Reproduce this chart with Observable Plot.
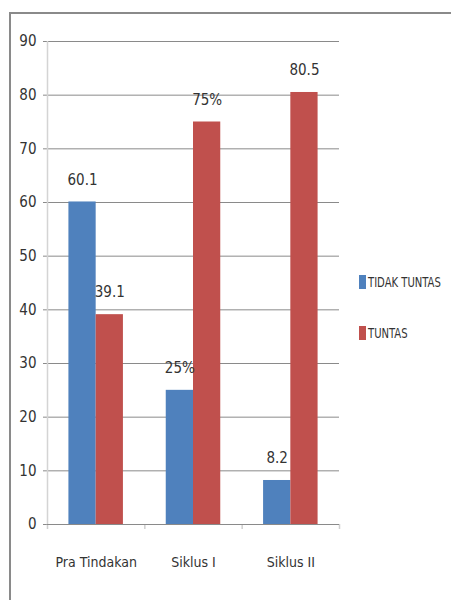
<!DOCTYPE html>
<html>
<head>
<meta charset="utf-8">
<script src="https://cdn.jsdelivr.net/npm/d3@7"></script>
<script src="https://cdn.jsdelivr.net/npm/@observablehq/plot@0.6"></script>
<style>
  html, body { margin: 0; padding: 0; background: #fff; }
  #wrap { position: relative; width: 451px; height: 600px; overflow: hidden; background: #fff;
          font-family: 'Liberation Sans Narrow', 'DejaVu Sans Condensed', 'Arial Narrow', sans-serif; }
  #border { position: absolute; left: 9px; top: 12px; width: 480px; height: 640px; border: 2px solid #8a8a8a; box-sizing: border-box; }
  #chart { position: absolute; left: 0; top: 0; }
  #legend { position: absolute; left: 359px; top: 272px; font-size: 13px; color: #333; white-space: nowrap; }
  .item { display: flex; align-items: center; height: 20px; margin-bottom: 31px; }
  .sw { width: 7px; height: 14px; margin-right: 2px; flex: none; }
  .lt { display: inline-block; transform: scale(0.86, 1.1); transform-origin: left center; }
</style>
</head>
<body>
<div id="wrap">
  <div id="border"></div>
  <div id="chart"></div>
  <div id="legend"></div>
</div>
<script>
const categories = ["Pra Tindakan", "Siklus I", "Siklus II"];
const seriesNames = ["TIDAK TUNTAS", "TUNTAS"];
const tidakTuntas = [60.1, 25, 8.2];
const tuntas = [39.1, 75, 80.5];
const tidakLabels = ["60.1", "25%", "8.2"];
const tuntasLabels = ["39.1", "75%", "80.5"];
const yTicks = [0, 10, 20, 30, 40, 50, 60, 70, 80, 90];
const colors = ["#4F81BD", "#C0504D"];

const rows = [];
categories.forEach((c, i) => {
  rows.push({i, cat: c, s: 0, series: seriesNames[0], value: tidakTuntas[i], label: tidakLabels[i]});
  rows.push({i, cat: c, s: 1, series: seriesNames[1], value: tuntas[i], label: tuntasLabels[i]});
});
const barW = 0.28;
const x1 = d => d.i + 0.5 - barW + d.s * barW;
const x2 = d => x1(d) + barW;
const font = "'Liberation Sans Narrow', 'DejaVu Sans Condensed', 'Arial Narrow', sans-serif";

const plot = Plot.plot({
  width: 451,
  height: 600,
  marginLeft: 47,
  marginRight: 112,
  marginTop: 41,
  marginBottom: 76,
  style: {fontFamily: font, fontSize: "14px", color: "#333", background: "transparent", overflow: "visible"},
  x: {type: "linear", domain: [0, categories.length], axis: null},
  y: {domain: [0, 90], axis: null},
  color: {domain: seriesNames, range: colors},
  marks: [
    Plot.gridY(yTicks, {stroke: "#8a8a8a", strokeOpacity: 1, x1: 0, x2: categories.length}),
    Plot.axisY({ticks: yTicks, tickSize: 4, tickPadding: 7, stroke: "#8a8a8a", fontSize: 15, fill: "#333", label: null}),
    Plot.ruleX([0], {y1: 0, y2: 90, stroke: "#d4d4d4", strokeWidth: 1.5}),
    Plot.axisX({ticks: [0, 1, 2, 3], tickFormat: () => "", tickSize: 5, stroke: "#cfcfcf", strokeWidth: 1.5, label: null}),
    Plot.axisX({ticks: [0.5, 1.5, 2.5], tickSize: 0, tickPadding: 33, tickFormat: v => categories[Math.floor(v)], fontSize: 14, fill: "#333", label: null}),
    Plot.rectY(rows, {x1, x2, y1: 0, y2: "value", fill: "series"}),
    Plot.ruleY([0], {stroke: "#8a8a8a"}),
    Plot.text(rows, {x: d => x1(d) + barW / 2, y: "value", text: "label", dy: -22, fontSize: 15, fill: "#333"})
  ]
});
document.getElementById("chart").appendChild(plot);

const legend = document.getElementById("legend");
seriesNames.forEach((s, k) => {
  const item = document.createElement("div");
  item.className = "item";
  const sw = document.createElement("span");
  sw.className = "sw";
  sw.style.background = colors[k];
  const t = document.createElement("span");
  t.className = "lt";
  t.textContent = s;
  item.appendChild(sw);
  item.appendChild(t);
  legend.appendChild(item);
});
</script>
</body>
</html>
